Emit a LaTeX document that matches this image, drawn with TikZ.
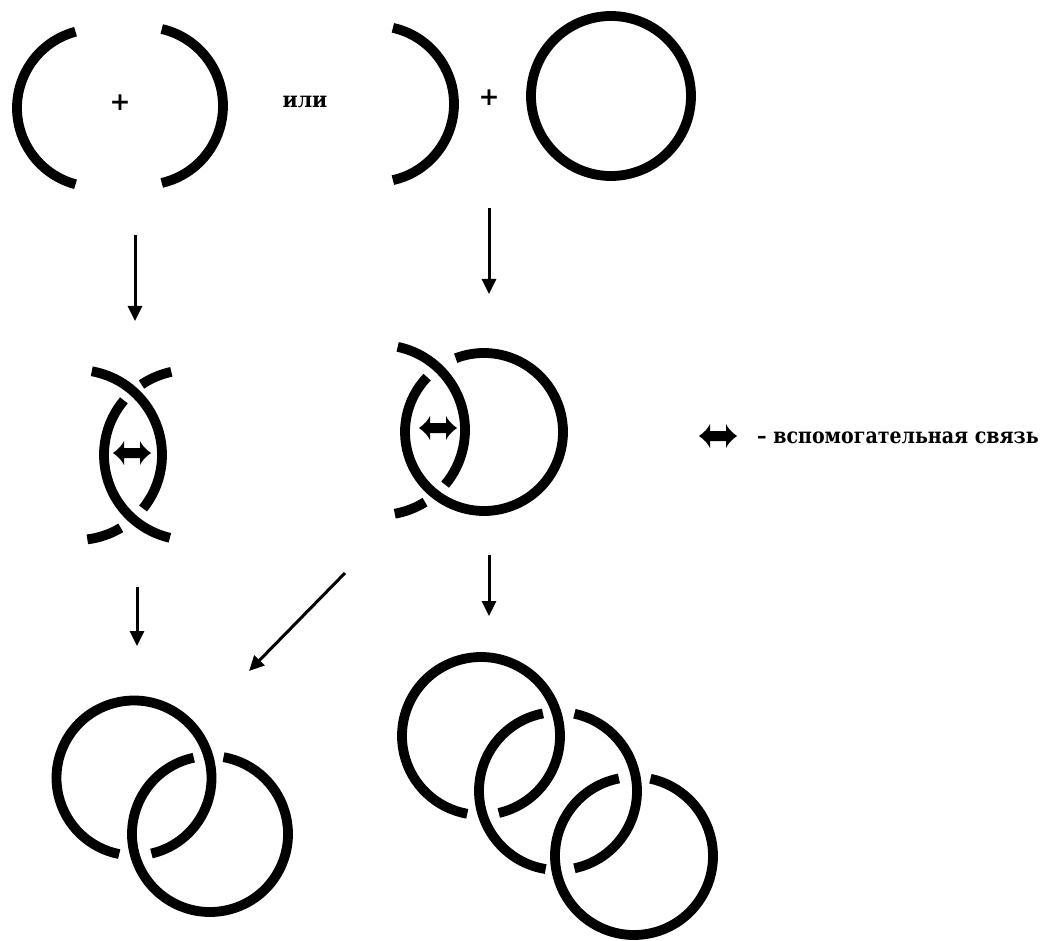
\documentclass[tikz,border=0pt]{standalone}
\usepackage{fontspec}
\setmainfont{DejaVu Serif}
\usetikzlibrary{arrows.meta}
\tikzset{
  ring/.style={line width=9.8pt},
  flow/.style={line width=3pt, -{Triangle[length=15pt,width=14pt]}},
  txt/.style={font=\fontsize{19}{22}\selectfont\bfseries, inner sep=0pt},
  plus/.style={font=\fontsize{25}{28}\selectfont\bfseries, inner sep=0pt},
  pics/bond/.style={code={
    \fill (-19,0) .. controls (-13,-4) and (-10,-8) .. (-8,-12) -- (-8,-5) -- (8,-5) -- (8,-12)
          .. controls (10,-8) and (13,-4) .. (19,0)
          .. controls (13,4) and (10,8) .. (8,12) -- (8,5) -- (-8,5) -- (-8,12)
          .. controls (-10,8) and (-13,4) .. (-19,0) -- cycle;
  }},
}
% one stroke of a ring: centre, start angle, end angle, radius (pt)
\newcommand{\ringpart}[4]{\draw[ring] ([shift={(#2:#4pt)}]#1) arc[start angle=#2,end angle=#3,radius=#4pt];}

\begin{document}
\begin{tikzpicture}[x=1pt,y=-1pt]
\fill[white] (0,0) rectangle (1047,941);
\useasboundingbox (0,0) rectangle (1047,941);

% ring centres
\coordinate (TL1) at (96,108);
\coordinate (TL2) at (144,106);
\coordinate (TR1) at (376,104);
\coordinate (TR2) at (611,96);
\coordinate (ML1) at (77,455);
\coordinate (ML2) at (189,455);
\coordinate (MR1) at (380,430);
\coordinate (MR2) at (484,432);
\coordinate (BL1) at (134,778);
\coordinate (BL2) at (210,834);
\coordinate (BR1) at (481,736);
\coordinate (BR2) at (558,791);
\coordinate (BR3) at (634,856);

% top row: two halves, or a half and a closed ring
\ringpart{TL1}{105}{255}{79}
\ringpart{TL2}{77}{-77}{79}
\node[plus] (plusL) at (120,103) {+};
\node[txt] (ili) at (305,102) {\scalebox{1.08}[1.15]{или}};
\ringpart{TR1}{77.5}{-77.5}{78}
\node[plus] (plusR) at (489,98) {+};
\draw[ring] (TR2) circle[radius=80pt];

% middle row: intertwined halves held by the auxiliary bond
\ringpart{ML1}{80}{-39}{85}
\ringpart{ML1}{-59}{-83}{85}
\ringpart{ML2}{102}{124}{85}
\ringpart{ML2}{140}{257}{85}
\pic (bondL) at (132,453) {bond};

\ringpart{MR1}{78}{-40}{85}
\ringpart{MR1}{-58}{-80}{85}
\ringpart{MR2}{111}{-224}{79}
\pic (bondR) at (438,428) {bond};

% legend
\pic (bondK) at (718,436) {bond};
\node[txt, anchor=base west] (legend) at (757,443) {\scalebox{1}[1.15]{– вспомогательная связь}};

% bottom row: two and three linked rings
\ringpart{BL1}{-77}{259}{77.5}
\ringpart{BL2}{102}{440}{78}

\ringpart{BR1}{-77}{260}{79}
\ringpart{BR2}{101}{261}{79}
\ringpart{BR2}{-78}{78}{79}
\ringpart{BR3}{101}{438}{79}

% arrows between stages
\coordinate (a1s) at (135,235); \coordinate (a1e) at (135,321);
\coordinate (a2s) at (489,208); \coordinate (a2e) at (489,294);
\coordinate (a3s) at (137,587); \coordinate (a3e) at (137,646);
\coordinate (a4s) at (489,555); \coordinate (a4e) at (489,616);
\coordinate (a5s) at (345,573); \coordinate (a5e) at (249,671);
\draw[flow] (a1s) -- (a1e);
\draw[flow] (a2s) -- (a2e);
\draw[flow] (a3s) -- (a3e);
\draw[flow] (a4s) -- (a4e);
\draw[flow] (a5s) -- (a5e);
\end{tikzpicture}
\end{document}
